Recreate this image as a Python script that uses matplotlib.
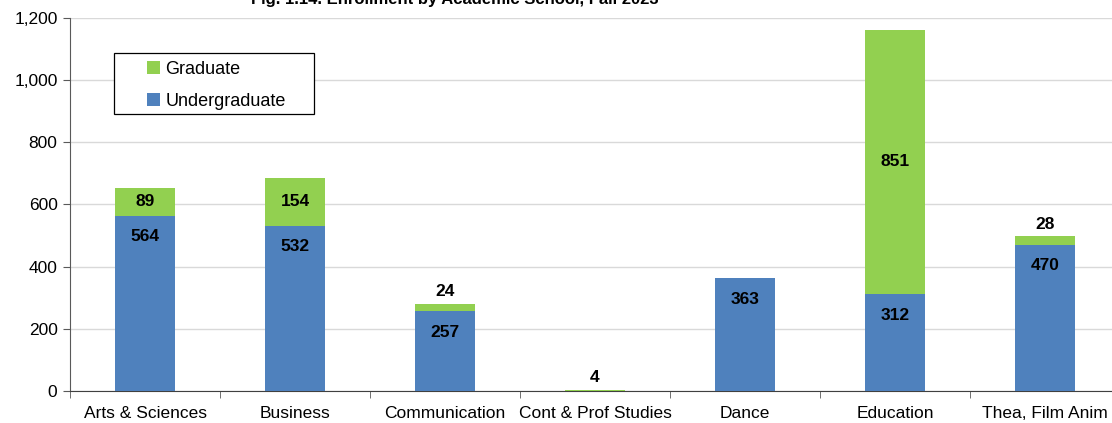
"""Stacked bar chart: enrollment by academic school (undergraduate + graduate)."""

import matplotlib

matplotlib.use("Agg")
import matplotlib.pyplot as plt  # noqa: E402
from matplotlib.patches import Rectangle  # noqa: E402
from matplotlib.ticker import FuncFormatter  # noqa: E402

schools = [
    "Arts & Sciences",
    "Business",
    "Communication",
    "Cont & Prof Studies",
    "Dance",
    "Education",
    "Thea, Film Anim",
]
undergraduate = [564, 532, 257, 0, 363, 312, 470]
graduate = [89, 154, 24, 4, 0, 851, 28]
title = "Fig. 1.14. Enrollment by Academic School, Fall 2023"

BLUE = "#4F81BD"
GREEN = "#92D050"
AXIS = "#595959"

plt.rcParams["font.family"] = ["Liberation Sans", "DejaVu Sans"]

W, H = 1112, 423
fig = plt.figure(figsize=(W / 100, H / 100), dpi=100)
ax = fig.add_axes([70 / W, 32 / H, 1050 / W, 373 / H])

x = list(range(len(schools)))
ax.bar(x, undergraduate, width=0.4, color=BLUE, zorder=3, label="Undergraduate")
ax.bar(x, graduate, width=0.4, bottom=undergraduate, color=GREEN, zorder=3,
       label="Graduate")

# value labels: undergrad just inside the top, graduate centred or above
for xi, u, g in zip(x, undergraduate, graduate):
    if u > 0:
        ax.annotate(f"{u}", (xi, u), xytext=(0, -21), textcoords="offset pixels",
                    ha="center", va="center", fontsize=12.5, fontweight="bold",
                    zorder=5)
    if g > 0:
        if g >= 50:
            ax.text(xi, u + g / 2, f"{g}", ha="center", va="center",
                    fontsize=12.5, fontweight="bold", zorder=5)
        else:
            ax.annotate(f"{g}", (xi, u + g), xytext=(0, 12),
                        textcoords="offset pixels", ha="center", va="center",
                        fontsize=12.5, fontweight="bold", zorder=5)

ax.set_xlim(-0.5, len(schools) - 0.5)
ax.set_ylim(0, 1200)
ax.set_yticks(range(0, 1201, 200))
ax.yaxis.set_major_formatter(FuncFormatter(lambda v, _: f"{int(v):,}"))
ax.grid(axis="y", color="#D9D9D9", linewidth=1, zorder=0)

ax.set_xticks(x)
ax.set_xticklabels(schools)
ax.set_xticks([i + 0.5 for i in range(-1, len(schools))], minor=True)
ax.tick_params(axis="x", which="major", length=0, pad=11, labelsize=12.5)
ax.tick_params(axis="x", which="minor", length=5, color=AXIS, direction="out")
ax.tick_params(axis="y", length=5, color=AXIS, labelsize=12.5, pad=4)

for side in ("top", "right"):
    ax.spines[side].set_visible(False)
ax.spines["left"].set_color(AXIS)
ax.spines["bottom"].set_color("#404040")

# legend box drawn separately so it can be wider than its entries
ax.add_patch(Rectangle((114 / W, 1 - 114 / H), 200 / W, 61 / H,
                       transform=fig.transFigure, facecolor="white",
                       edgecolor="black", linewidth=0.9, zorder=4,
                       clip_on=False))
handles, labels = ax.get_legend_handles_labels()
leg = ax.legend(handles[::-1], labels[::-1], loc="upper left",
                bbox_to_anchor=(143 / W, 1 - 57 / H), bbox_transform=fig.transFigure,
                frameon=False, fontsize=13, handlelength=0.75, handleheight=0.75,
                handletextpad=0.3, labelspacing=0.85, borderpad=0.2,
                borderaxespad=0)
leg.set_zorder(6)

fig.text(455 / W, 1 - 4 / H, title, ha="center", va="baseline",
         fontsize=12, fontweight="bold")

fig.savefig("out.png", dpi=100)
